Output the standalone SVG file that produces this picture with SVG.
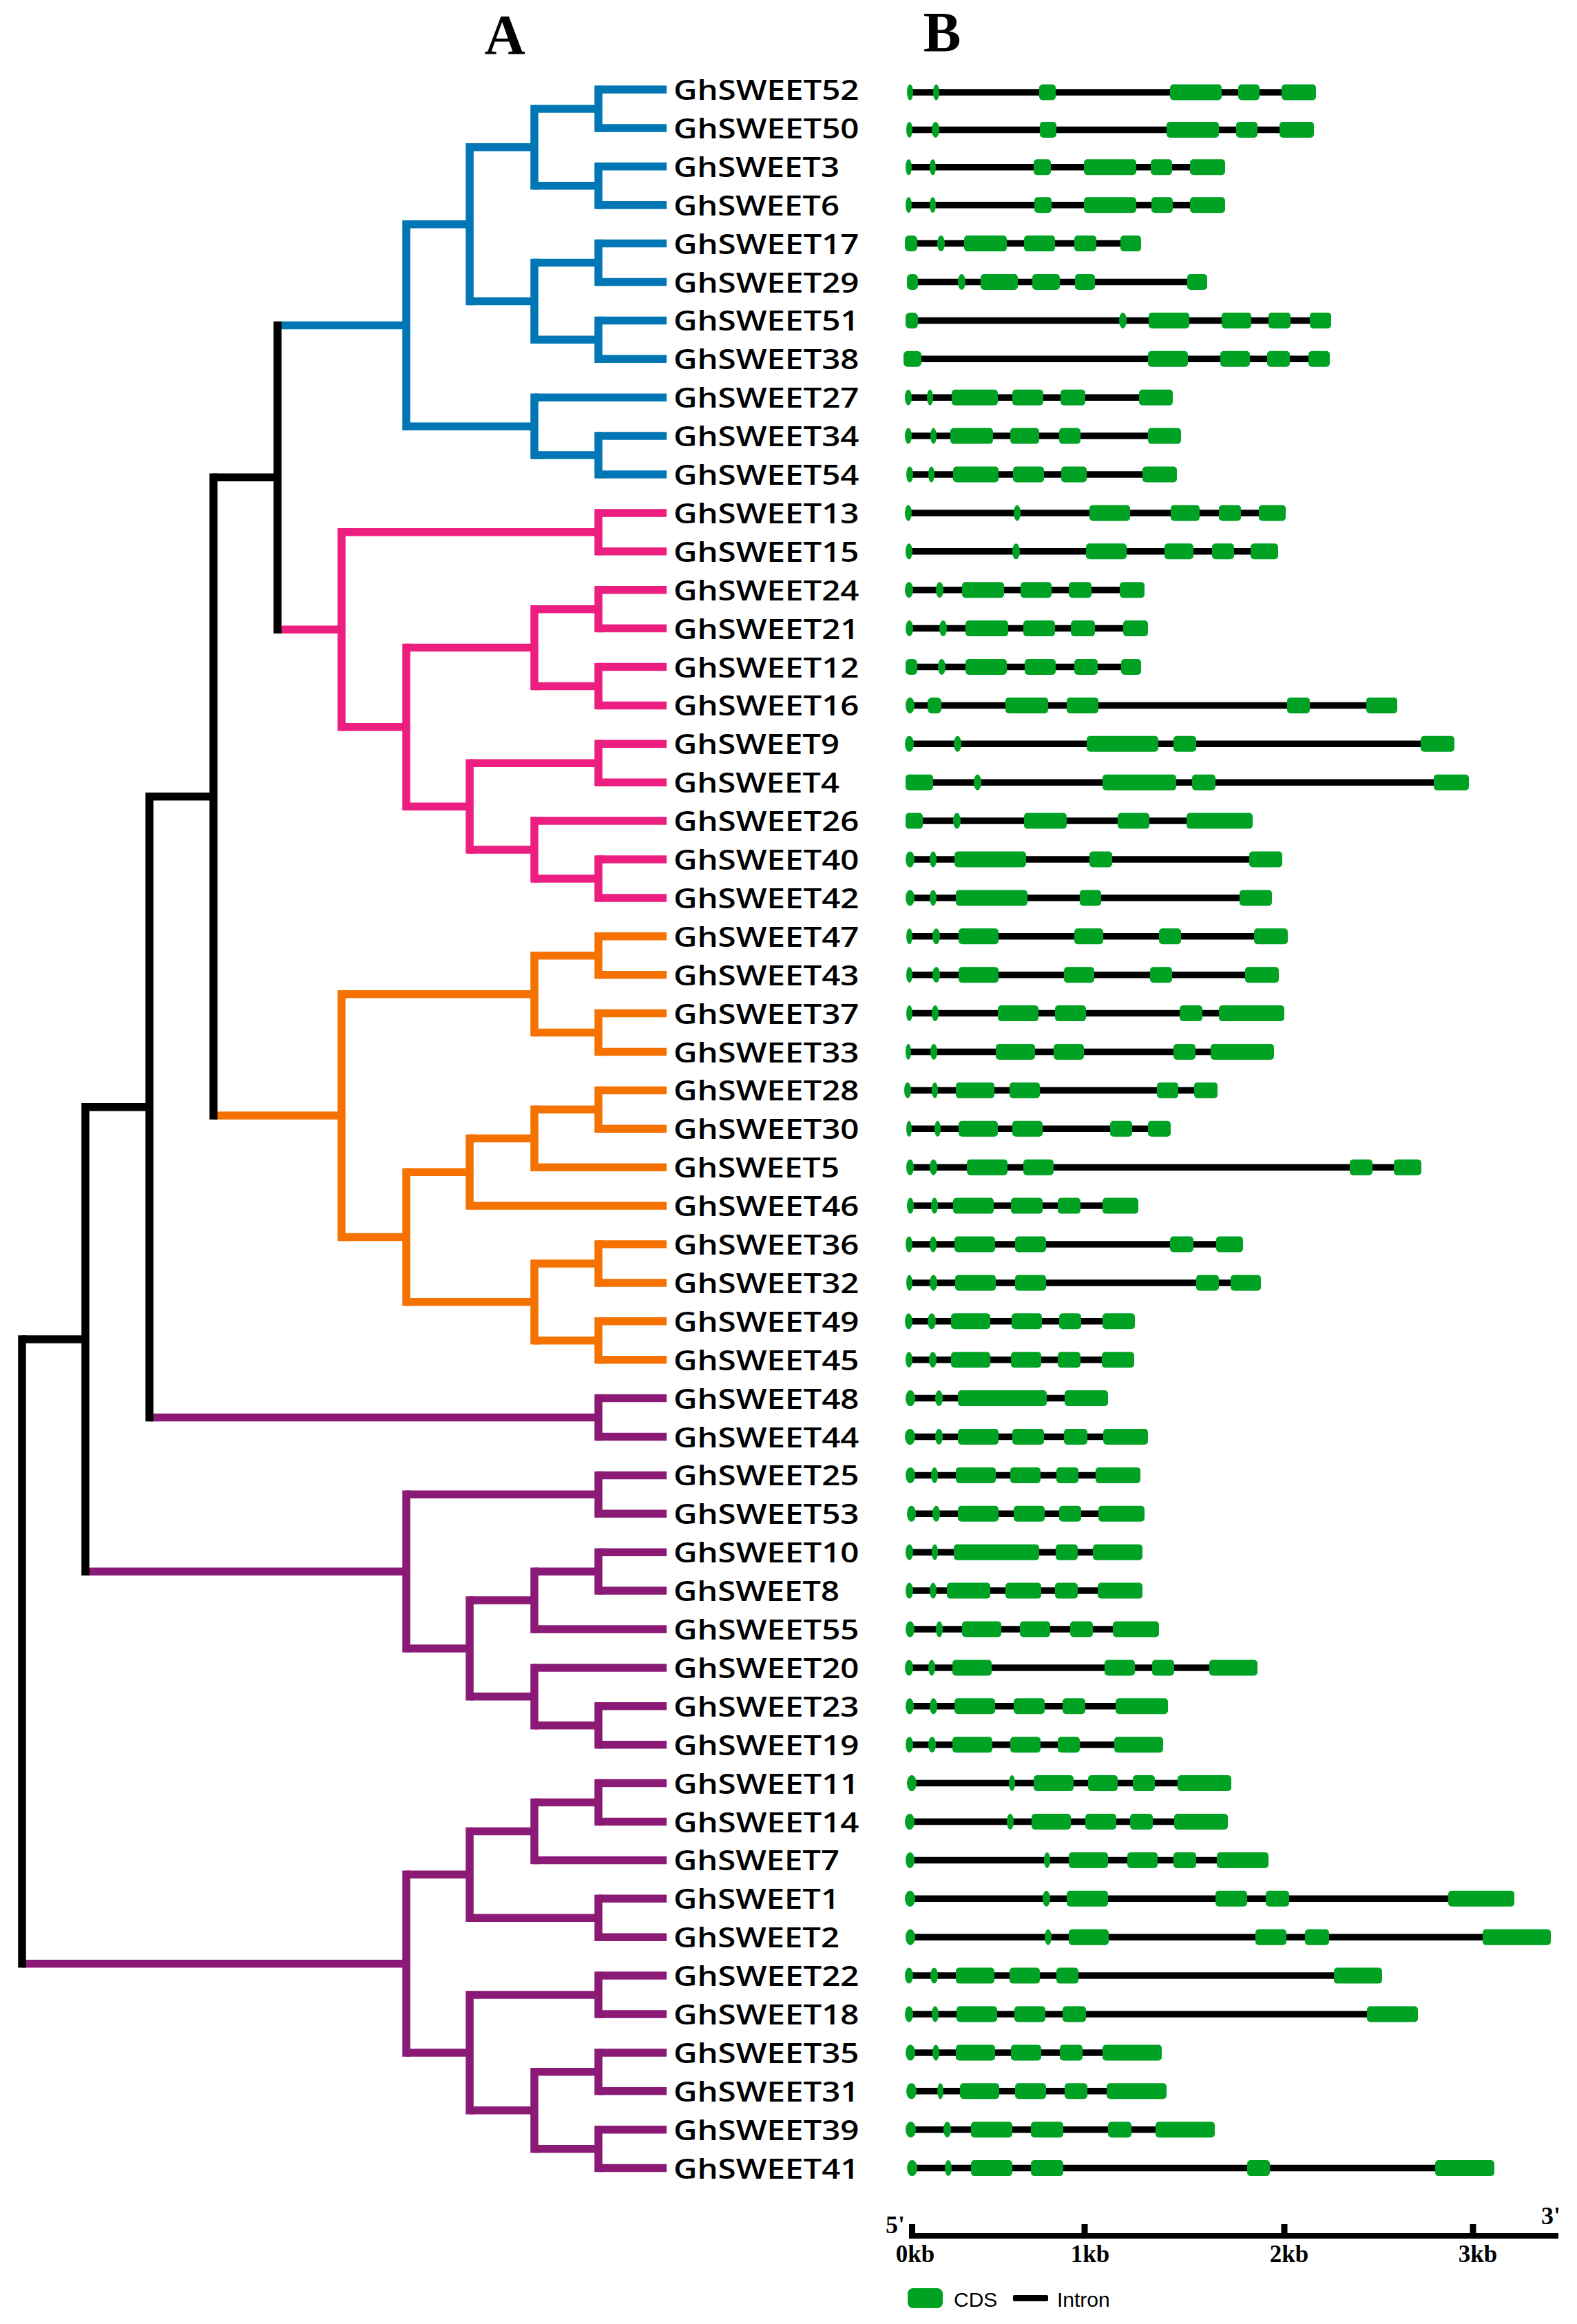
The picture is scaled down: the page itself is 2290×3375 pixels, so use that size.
<svg xmlns="http://www.w3.org/2000/svg" width="2290" height="3375" viewBox="0 0 2290 3375">
<style>
.e{fill:none;stroke-width:11.5;stroke-linecap:butt}
.v{fill:none;stroke-width:11.5;stroke-linecap:square}
.k{stroke:#000}.bl{stroke:#0077b4}.pk{stroke:#ec1e7f}.or{stroke:#f57100}.pu{stroke:#8a1a76}
.lab{font-family:"Open Sans","DejaVu Sans",sans-serif;font-weight:600;font-size:39px;fill:#000}
.gene rect,.gene ellipse{fill:#00a224}
.in{stroke:#000;stroke-width:9.5}
.ttl{font-family:"Liberation Serif","Times New Roman",serif;font-weight:bold;fill:#000}
.leg{font-family:"Liberation Sans",Arial,sans-serif;font-size:30px;fill:#000}
</style>
<rect width="2290" height="3375" fill="#fff"/>
<text class="ttl" x="733" y="78" font-size="82" text-anchor="middle">A</text>
<text class="ttl" x="1368" y="74" font-size="82" text-anchor="middle">B</text>
<g id="connectors">
<path class="e bl" d="M869 130H968M869 185.9H968M869 241.8H968M869 297.7H968M869 353.6H968M869 409.5H968M869 465.4H968M869 521.3H968M776 577.2H968M869 633.1H968M869 689H968M776 157.95H869M776 269.75H869M682 213.85H776M776 381.55H869M776 493.35H869M682 437.45H776M590 325.65H682M776 661.05H869M590 619.13H776M403 472.39H590"/>
<path class="e pk" d="M869 744.9H968M869 800.8H968M869 856.7H968M869 912.6H968M869 968.5H968M869 1024.4H968M869 1080.3H968M869 1136.2H968M776 1192.1H968M869 1248H968M869 1303.9H968M496 772.85H869M776 884.65H869M776 996.45H869M590 940.55H776M682 1108.25H869M776 1275.95H869M682 1234.03H776M590 1171.14H682M496 1055.84H590M403 914.35H496"/>
<path class="e or" d="M869 1359.8H968M869 1415.7H968M869 1471.6H968M869 1527.5H968M869 1583.4H968M869 1639.3H968M776 1695.2H968M682 1751.1H968M869 1807H968M869 1862.9H968M869 1918.8H968M869 1974.7H968M776 1387.75H869M776 1499.55H869M496 1443.65H776M776 1611.35H869M682 1653.28H776M590 1702.19H682M776 1834.95H869M776 1946.75H869M590 1890.85H776M496 1796.52H590M310 1620.08H496"/>
<path class="e pu" d="M869 2030.6H968M869 2086.5H968M869 2142.4H968M869 2198.3H968M869 2254.2H968M869 2310.1H968M776 2366H968M776 2421.9H968M869 2477.8H968M869 2533.7H968M869 2589.6H968M869 2645.5H968M776 2701.4H968M869 2757.3H968M869 2813.2H968M869 2869.1H968M869 2925H968M869 2980.9H968M869 3036.8H968M869 3092.7H968M869 3148.6H968M217 2058.55H869M590 2170.35H869M776 2282.15H869M682 2324.08H776M776 2505.75H869M682 2463.83H776M590 2393.95H682M124 2282.15H590M776 2617.55H869M682 2659.48H776M682 2785.25H869M590 2722.36H682M682 2897.05H869M776 3008.85H869M776 3120.65H869M682 3064.75H776M590 2980.9H682M32 2851.63H590"/>
<path class="e k" d="M310 693.37H403M217 1156.73H310M124 1607.64H217M32 1944.9H124"/>
<path class="v bl" d="M869 130V185.9M869 241.8V297.7M776 157.95V269.75M869 353.6V409.5M869 465.4V521.3M776 381.55V493.35M682 213.85V437.45M869 633.1V689M776 577.2V661.05M590 325.65V619.13"/>
<path class="v pk" d="M869 744.9V800.8M869 856.7V912.6M869 968.5V1024.4M776 884.65V996.45M869 1080.3V1136.2M869 1248V1303.9M776 1192.1V1275.95M682 1108.25V1234.03M590 940.55V1171.14M496 772.85V1055.84"/>
<path class="v or" d="M869 1359.8V1415.7M869 1471.6V1527.5M776 1387.75V1499.55M869 1583.4V1639.3M776 1611.35V1695.2M682 1653.28V1751.1M869 1807V1862.9M869 1918.8V1974.7M776 1834.95V1946.75M590 1702.19V1890.85M496 1443.65V1796.52"/>
<path class="v pu" d="M869 2030.6V2086.5M869 2142.4V2198.3M869 2254.2V2310.1M776 2282.15V2366M869 2477.8V2533.7M776 2421.9V2505.75M682 2324.08V2463.83M590 2170.35V2393.95M869 2589.6V2645.5M776 2617.55V2701.4M869 2757.3V2813.2M682 2659.48V2785.25M869 2869.1V2925M869 2980.9V3036.8M869 3092.7V3148.6M776 3008.85V3120.65M682 2897.05V3064.75M590 2722.36V2980.9"/>
<path class="v k" d="M403 472.39V914.35M310 693.37V1620.08M217 1156.73V2058.55M124 1607.64V2282.15M32 1944.9V2851.63"/>
</g>
<g id="GhSWEET52" class="gene" transform="translate(0,130)"><text class="lab" x="978" y="15" textLength="269.5" lengthAdjust="spacingAndGlyphs">GhSWEET52</text><g transform="translate(0,4)"><line class="in" x1="1321.5" x2="1886"/><ellipse cx="1321.5" rx="4.5" ry="11.5"/><ellipse cx="1359.5" rx="4.5" ry="11.5"/><rect x="1509" y="-11.5" width="24" height="23" rx="5"/><rect x="1699" y="-11.5" width="75" height="23" rx="5"/><rect x="1798" y="-11.5" width="31" height="23" rx="5"/><rect x="1861" y="-11.5" width="50" height="23" rx="5"/></g></g>
<g id="GhSWEET50" class="gene" transform="translate(0,185.9)"><text class="lab" x="978" y="15" textLength="269.5" lengthAdjust="spacingAndGlyphs">GhSWEET50</text><g transform="translate(0,2.5)"><line class="in" x1="1320.5" x2="1883"/><ellipse cx="1320.5" rx="4.5" ry="11.5"/><ellipse cx="1358.5" rx="5.5" ry="11.5"/><rect x="1510" y="-11.5" width="24" height="23" rx="5"/><rect x="1694" y="-11.5" width="76" height="23" rx="5"/><rect x="1795" y="-11.5" width="31" height="23" rx="5"/><rect x="1858" y="-11.5" width="50" height="23" rx="5"/></g></g>
<g id="GhSWEET3" class="gene" transform="translate(0,241.8)"><text class="lab" x="978" y="15" textLength="241" lengthAdjust="spacingAndGlyphs">GhSWEET3</text><g transform="translate(0,1)"><line class="in" x1="1319.5" x2="1753"/><ellipse cx="1319.5" rx="4.5" ry="11.5"/><ellipse cx="1354.5" rx="4.5" ry="11.5"/><rect x="1501" y="-11.5" width="25" height="23" rx="5"/><rect x="1574" y="-11.5" width="76" height="23" rx="5"/><rect x="1671" y="-11.5" width="31" height="23" rx="5"/><rect x="1728" y="-11.5" width="51" height="23" rx="5"/></g></g>
<g id="GhSWEET6" class="gene" transform="translate(0,297.7)"><text class="lab" x="978" y="15" textLength="241" lengthAdjust="spacingAndGlyphs">GhSWEET6</text><line class="in" x1="1319.5" x2="1753"/><ellipse cx="1319.5" rx="4.5" ry="11.5"/><ellipse cx="1354.5" rx="4.5" ry="11.5"/><rect x="1502" y="-11.5" width="25" height="23" rx="5"/><rect x="1574" y="-11.5" width="76" height="23" rx="5"/><rect x="1672" y="-11.5" width="31" height="23" rx="5"/><rect x="1728" y="-11.5" width="51" height="23" rx="5"/></g>
<g id="GhSWEET17" class="gene" transform="translate(0,353.6)"><text class="lab" x="978" y="15" textLength="269.5" lengthAdjust="spacingAndGlyphs">GhSWEET17</text><line class="in" x1="1323" x2="1642"/><rect x="1314" y="-11.5" width="18" height="23" rx="6"/><ellipse cx="1366.5" rx="5.5" ry="11.5"/><rect x="1400" y="-11.5" width="62" height="23" rx="5"/><rect x="1487" y="-11.5" width="45" height="23" rx="5"/><rect x="1560" y="-11.5" width="32" height="23" rx="5"/><rect x="1627" y="-11.5" width="30" height="23" rx="5"/></g>
<g id="GhSWEET29" class="gene" transform="translate(0,409.5)"><text class="lab" x="978" y="15" textLength="269.5" lengthAdjust="spacingAndGlyphs">GhSWEET29</text><line class="in" x1="1325" x2="1738.5"/><rect x="1317" y="-11.5" width="16" height="23" rx="6"/><ellipse cx="1396.5" rx="5.5" ry="11.5"/><rect x="1424" y="-11.5" width="54" height="23" rx="5"/><rect x="1499" y="-11.5" width="40" height="23" rx="5"/><rect x="1561" y="-11.5" width="29" height="23" rx="5"/><rect x="1724" y="-11.5" width="29" height="23" rx="5"/></g>
<g id="GhSWEET51" class="gene" transform="translate(0,465.4)"><text class="lab" x="978" y="15" textLength="269.5" lengthAdjust="spacingAndGlyphs">GhSWEET51</text><line class="in" x1="1324" x2="1917.5"/><rect x="1315" y="-11.5" width="18" height="23" rx="6"/><ellipse cx="1630.5" rx="5.5" ry="11.5"/><rect x="1668" y="-11.5" width="59" height="23" rx="5"/><rect x="1774" y="-11.5" width="43" height="23" rx="5"/><rect x="1842" y="-11.5" width="32" height="23" rx="5"/><rect x="1902" y="-11.5" width="31" height="23" rx="5"/></g>
<g id="GhSWEET38" class="gene" transform="translate(0,521.3)"><text class="lab" x="978" y="15" textLength="269.5" lengthAdjust="spacingAndGlyphs">GhSWEET38</text><line class="in" x1="1325" x2="1915.5"/><rect x="1312" y="-11.5" width="26" height="23" rx="6"/><rect x="1667" y="-11.5" width="58" height="23" rx="5"/><rect x="1772" y="-11.5" width="43" height="23" rx="5"/><rect x="1840" y="-11.5" width="33" height="23" rx="5"/><rect x="1900" y="-11.5" width="31" height="23" rx="5"/></g>
<g id="GhSWEET27" class="gene" transform="translate(0,577.2)"><text class="lab" x="978" y="15" textLength="269.5" lengthAdjust="spacingAndGlyphs">GhSWEET27</text><line class="in" x1="1319" x2="1678.5"/><ellipse cx="1319" rx="5" ry="11.5"/><ellipse cx="1350.5" rx="4.5" ry="11.5"/><rect x="1382" y="-11.5" width="67" height="23" rx="5"/><rect x="1470" y="-11.5" width="45" height="23" rx="5"/><rect x="1540" y="-11.5" width="36" height="23" rx="5"/><rect x="1654" y="-11.5" width="49" height="23" rx="5"/></g>
<g id="GhSWEET34" class="gene" transform="translate(0,633.1)"><text class="lab" x="978" y="15" textLength="269.5" lengthAdjust="spacingAndGlyphs">GhSWEET34</text><line class="in" x1="1319" x2="1691"/><ellipse cx="1319" rx="5" ry="11.5"/><ellipse cx="1355.5" rx="4.5" ry="11.5"/><rect x="1380" y="-11.5" width="62" height="23" rx="5"/><rect x="1467" y="-11.5" width="42" height="23" rx="5"/><rect x="1538" y="-11.5" width="31" height="23" rx="5"/><rect x="1667" y="-11.5" width="48" height="23" rx="5"/></g>
<g id="GhSWEET54" class="gene" transform="translate(0,689)"><text class="lab" x="978" y="15" textLength="269.5" lengthAdjust="spacingAndGlyphs">GhSWEET54</text><line class="in" x1="1321" x2="1684"/><ellipse cx="1321" rx="5" ry="11.5"/><ellipse cx="1352.5" rx="4.5" ry="11.5"/><rect x="1384" y="-11.5" width="66" height="23" rx="5"/><rect x="1471" y="-11.5" width="45" height="23" rx="5"/><rect x="1541" y="-11.5" width="37" height="23" rx="5"/><rect x="1659" y="-11.5" width="50" height="23" rx="5"/></g>
<g id="GhSWEET13" class="gene" transform="translate(0,744.9)"><text class="lab" x="978" y="15" textLength="269.5" lengthAdjust="spacingAndGlyphs">GhSWEET13</text><line class="in" x1="1319" x2="1847.5"/><ellipse cx="1319" rx="5" ry="11.5"/><ellipse cx="1477" rx="5" ry="11.5"/><rect x="1582" y="-11.5" width="59" height="23" rx="5"/><rect x="1700" y="-11.5" width="42" height="23" rx="5"/><rect x="1770" y="-11.5" width="32" height="23" rx="5"/><rect x="1828" y="-11.5" width="39" height="23" rx="5"/></g>
<g id="GhSWEET15" class="gene" transform="translate(0,800.8)"><text class="lab" x="978" y="15" textLength="269.5" lengthAdjust="spacingAndGlyphs">GhSWEET15</text><line class="in" x1="1320" x2="1836"/><ellipse cx="1320" rx="5" ry="11.5"/><ellipse cx="1475.5" rx="5.5" ry="11.5"/><rect x="1577" y="-11.5" width="59" height="23" rx="5"/><rect x="1691" y="-11.5" width="42" height="23" rx="5"/><rect x="1760" y="-11.5" width="32" height="23" rx="5"/><rect x="1816" y="-11.5" width="40" height="23" rx="5"/></g>
<g id="GhSWEET24" class="gene" transform="translate(0,856.7)"><text class="lab" x="978" y="15" textLength="269.5" lengthAdjust="spacingAndGlyphs">GhSWEET24</text><line class="in" x1="1320" x2="1644"/><ellipse cx="1320" rx="6" ry="11.5"/><ellipse cx="1364.5" rx="5.5" ry="11.5"/><rect x="1397" y="-11.5" width="61" height="23" rx="5"/><rect x="1482" y="-11.5" width="45" height="23" rx="5"/><rect x="1552" y="-11.5" width="33" height="23" rx="5"/><rect x="1626" y="-11.5" width="36" height="23" rx="5"/></g>
<g id="GhSWEET21" class="gene" transform="translate(0,912.6)"><text class="lab" x="978" y="15" textLength="269.5" lengthAdjust="spacingAndGlyphs">GhSWEET21</text><line class="in" x1="1320.5" x2="1649"/><ellipse cx="1320.5" rx="5.5" ry="11.5"/><ellipse cx="1369.5" rx="5.5" ry="11.5"/><rect x="1402" y="-11.5" width="62" height="23" rx="5"/><rect x="1486" y="-11.5" width="46" height="23" rx="5"/><rect x="1555" y="-11.5" width="35" height="23" rx="5"/><rect x="1631" y="-11.5" width="36" height="23" rx="5"/></g>
<g id="GhSWEET12" class="gene" transform="translate(0,968.5)"><text class="lab" x="978" y="15" textLength="269.5" lengthAdjust="spacingAndGlyphs">GhSWEET12</text><line class="in" x1="1323.5" x2="1642.5"/><rect x="1315" y="-11.5" width="17" height="23" rx="6"/><ellipse cx="1367.5" rx="5.5" ry="11.5"/><rect x="1402" y="-11.5" width="60" height="23" rx="5"/><rect x="1488" y="-11.5" width="45" height="23" rx="5"/><rect x="1560" y="-11.5" width="34" height="23" rx="5"/><rect x="1628" y="-11.5" width="29" height="23" rx="5"/></g>
<g id="GhSWEET16" class="gene" transform="translate(0,1024.4)"><text class="lab" x="978" y="15" textLength="269.5" lengthAdjust="spacingAndGlyphs">GhSWEET16</text><line class="in" x1="1321.5" x2="2006.5"/><ellipse cx="1321.5" rx="6.5" ry="11.5"/><rect x="1347" y="-11.5" width="20" height="23" rx="6"/><rect x="1460" y="-11.5" width="62" height="23" rx="5"/><rect x="1549" y="-11.5" width="46" height="23" rx="5"/><rect x="1869" y="-11.5" width="33" height="23" rx="5"/><rect x="1984" y="-11.5" width="45" height="23" rx="5"/></g>
<g id="GhSWEET9" class="gene" transform="translate(0,1080.3)"><text class="lab" x="978" y="15" textLength="241" lengthAdjust="spacingAndGlyphs">GhSWEET9</text><line class="in" x1="1320.5" x2="2087.5"/><ellipse cx="1320.5" rx="6.5" ry="11.5"/><ellipse cx="1390.5" rx="5.5" ry="11.5"/><rect x="1578" y="-11.5" width="104" height="23" rx="5"/><rect x="1704" y="-11.5" width="33" height="23" rx="5"/><rect x="2063" y="-11.5" width="49" height="23" rx="5"/></g>
<g id="GhSWEET4" class="gene" transform="translate(0,1136.2)"><text class="lab" x="978" y="15" textLength="241" lengthAdjust="spacingAndGlyphs">GhSWEET4</text><line class="in" x1="1335" x2="2107.5"/><rect x="1315" y="-11.5" width="40" height="23" rx="5"/><ellipse cx="1419.5" rx="5.5" ry="11.5"/><rect x="1601" y="-11.5" width="107" height="23" rx="5"/><rect x="1731" y="-11.5" width="34" height="23" rx="5"/><rect x="2082" y="-11.5" width="51" height="23" rx="5"/></g>
<g id="GhSWEET26" class="gene" transform="translate(0,1192.1)"><text class="lab" x="978" y="15" textLength="269.5" lengthAdjust="spacingAndGlyphs">GhSWEET26</text><line class="in" x1="1327.5" x2="1771"/><rect x="1315" y="-11.5" width="25" height="23" rx="5"/><ellipse cx="1389.5" rx="5.5" ry="11.5"/><rect x="1487" y="-11.5" width="62" height="23" rx="5"/><rect x="1623" y="-11.5" width="46" height="23" rx="5"/><rect x="1723" y="-11.5" width="96" height="23" rx="5"/></g>
<g id="GhSWEET40" class="gene" transform="translate(0,1248)"><text class="lab" x="978" y="15" textLength="269.5" lengthAdjust="spacingAndGlyphs">GhSWEET40</text><line class="in" x1="1321.5" x2="1838"/><ellipse cx="1321.5" rx="6.5" ry="11.5"/><ellipse cx="1355" rx="5" ry="11.5"/><rect x="1386" y="-11.5" width="104" height="23" rx="5"/><rect x="1582" y="-11.5" width="33" height="23" rx="5"/><rect x="1814" y="-11.5" width="48" height="23" rx="5"/></g>
<g id="GhSWEET42" class="gene" transform="translate(0,1303.9)"><text class="lab" x="978" y="15" textLength="269.5" lengthAdjust="spacingAndGlyphs">GhSWEET42</text><line class="in" x1="1321.5" x2="1823.5"/><ellipse cx="1321.5" rx="6.5" ry="11.5"/><ellipse cx="1355" rx="5" ry="11.5"/><rect x="1388" y="-11.5" width="104" height="23" rx="5"/><rect x="1568" y="-11.5" width="31" height="23" rx="5"/><rect x="1800" y="-11.5" width="47" height="23" rx="5"/></g>
<g id="GhSWEET47" class="gene" transform="translate(0,1359.8)"><text class="lab" x="978" y="15" textLength="269.5" lengthAdjust="spacingAndGlyphs">GhSWEET47</text><line class="in" x1="1320.5" x2="1845.5"/><ellipse cx="1320.5" rx="4.5" ry="11.5"/><ellipse cx="1359.5" rx="5.5" ry="11.5"/><rect x="1392" y="-11.5" width="58" height="23" rx="5"/><rect x="1560" y="-11.5" width="42" height="23" rx="5"/><rect x="1683" y="-11.5" width="32" height="23" rx="5"/><rect x="1821" y="-11.5" width="49" height="23" rx="5"/></g>
<g id="GhSWEET43" class="gene" transform="translate(0,1415.7)"><text class="lab" x="978" y="15" textLength="269.5" lengthAdjust="spacingAndGlyphs">GhSWEET43</text><line class="in" x1="1320.5" x2="1832.5"/><ellipse cx="1320.5" rx="4.5" ry="11.5"/><ellipse cx="1359.5" rx="5.5" ry="11.5"/><rect x="1392" y="-11.5" width="58" height="23" rx="5"/><rect x="1545" y="-11.5" width="44" height="23" rx="5"/><rect x="1670" y="-11.5" width="32" height="23" rx="5"/><rect x="1808" y="-11.5" width="49" height="23" rx="5"/></g>
<g id="GhSWEET37" class="gene" transform="translate(0,1471.6)"><text class="lab" x="978" y="15" textLength="269.5" lengthAdjust="spacingAndGlyphs">GhSWEET37</text><line class="in" x1="1320.5" x2="1817.5"/><ellipse cx="1320.5" rx="4.5" ry="11.5"/><ellipse cx="1358" rx="5" ry="11.5"/><rect x="1449" y="-11.5" width="59" height="23" rx="5"/><rect x="1532" y="-11.5" width="45" height="23" rx="5"/><rect x="1713" y="-11.5" width="33" height="23" rx="5"/><rect x="1770" y="-11.5" width="95" height="23" rx="5"/></g>
<g id="GhSWEET33" class="gene" transform="translate(0,1527.5)"><text class="lab" x="978" y="15" textLength="269.5" lengthAdjust="spacingAndGlyphs">GhSWEET33</text><line class="in" x1="1319" x2="1804"/><ellipse cx="1319" rx="4" ry="11.5"/><ellipse cx="1356" rx="5" ry="11.5"/><rect x="1446" y="-11.5" width="57" height="23" rx="5"/><rect x="1530" y="-11.5" width="44" height="23" rx="5"/><rect x="1704" y="-11.5" width="32" height="23" rx="5"/><rect x="1758" y="-11.5" width="92" height="23" rx="5"/></g>
<g id="GhSWEET28" class="gene" transform="translate(0,1583.4)"><text class="lab" x="978" y="15" textLength="269.5" lengthAdjust="spacingAndGlyphs">GhSWEET28</text><line class="in" x1="1318" x2="1751"/><ellipse cx="1318" rx="5" ry="11.5"/><ellipse cx="1357.5" rx="4.5" ry="11.5"/><rect x="1388" y="-11.5" width="56" height="23" rx="5"/><rect x="1466" y="-11.5" width="44" height="23" rx="5"/><rect x="1680" y="-11.5" width="31" height="23" rx="5"/><rect x="1734" y="-11.5" width="34" height="23" rx="5"/></g>
<g id="GhSWEET30" class="gene" transform="translate(0,1639.3)"><text class="lab" x="978" y="15" textLength="269.5" lengthAdjust="spacingAndGlyphs">GhSWEET30</text><line class="in" x1="1320" x2="1683.5"/><ellipse cx="1320" rx="4" ry="11.5"/><ellipse cx="1361.5" rx="4.5" ry="11.5"/><rect x="1392" y="-11.5" width="57" height="23" rx="5"/><rect x="1470" y="-11.5" width="44" height="23" rx="5"/><rect x="1612" y="-11.5" width="32" height="23" rx="5"/><rect x="1667" y="-11.5" width="33" height="23" rx="5"/></g>
<g id="GhSWEET5" class="gene" transform="translate(0,1695.2)"><text class="lab" x="978" y="15" textLength="241" lengthAdjust="spacingAndGlyphs">GhSWEET5</text><line class="in" x1="1321.5" x2="2044"/><ellipse cx="1321.5" rx="5.5" ry="11.5"/><ellipse cx="1355.5" rx="5.5" ry="11.5"/><rect x="1404" y="-11.5" width="59" height="23" rx="5"/><rect x="1486" y="-11.5" width="44" height="23" rx="5"/><rect x="1960" y="-11.5" width="33" height="23" rx="5"/><rect x="2024" y="-11.5" width="40" height="23" rx="5"/></g>
<g id="GhSWEET46" class="gene" transform="translate(0,1751.1)"><text class="lab" x="978" y="15" textLength="269.5" lengthAdjust="spacingAndGlyphs">GhSWEET46</text><line class="in" x1="1322" x2="1627"/><ellipse cx="1322" rx="5" ry="11.5"/><ellipse cx="1357" rx="5" ry="11.5"/><rect x="1384" y="-11.5" width="59" height="23" rx="5"/><rect x="1468" y="-11.5" width="46" height="23" rx="5"/><rect x="1536" y="-11.5" width="33" height="23" rx="5"/><rect x="1601" y="-11.5" width="52" height="23" rx="5"/></g>
<g id="GhSWEET36" class="gene" transform="translate(0,1807)"><text class="lab" x="978" y="15" textLength="269.5" lengthAdjust="spacingAndGlyphs">GhSWEET36</text><line class="in" x1="1320" x2="1785.5"/><ellipse cx="1320" rx="5" ry="11.5"/><ellipse cx="1355" rx="5" ry="11.5"/><rect x="1386" y="-11.5" width="59" height="23" rx="5"/><rect x="1474" y="-11.5" width="45" height="23" rx="5"/><rect x="1699" y="-11.5" width="34" height="23" rx="5"/><rect x="1766" y="-11.5" width="39" height="23" rx="5"/></g>
<g id="GhSWEET32" class="gene" transform="translate(0,1862.9)"><text class="lab" x="978" y="15" textLength="269.5" lengthAdjust="spacingAndGlyphs">GhSWEET32</text><line class="in" x1="1320.5" x2="1809"/><ellipse cx="1320.5" rx="4.5" ry="11.5"/><ellipse cx="1355.5" rx="5.5" ry="11.5"/><rect x="1387" y="-11.5" width="59" height="23" rx="5"/><rect x="1474" y="-11.5" width="45" height="23" rx="5"/><rect x="1737" y="-11.5" width="33" height="23" rx="5"/><rect x="1787" y="-11.5" width="44" height="23" rx="5"/></g>
<g id="GhSWEET49" class="gene" transform="translate(0,1918.8)"><text class="lab" x="978" y="15" textLength="269.5" lengthAdjust="spacingAndGlyphs">GhSWEET49</text><line class="in" x1="1319.5" x2="1624.5"/><ellipse cx="1319.5" rx="5.5" ry="11.5"/><ellipse cx="1353" rx="6" ry="11.5"/><rect x="1381" y="-11.5" width="57" height="23" rx="5"/><rect x="1469" y="-11.5" width="44" height="23" rx="5"/><rect x="1538" y="-11.5" width="32" height="23" rx="5"/><rect x="1601" y="-11.5" width="47" height="23" rx="5"/></g>
<g id="GhSWEET45" class="gene" transform="translate(0,1974.7)"><text class="lab" x="978" y="15" textLength="269.5" lengthAdjust="spacingAndGlyphs">GhSWEET45</text><line class="in" x1="1320" x2="1623.5"/><ellipse cx="1320" rx="5" ry="11.5"/><ellipse cx="1354.5" rx="5.5" ry="11.5"/><rect x="1381" y="-11.5" width="57" height="23" rx="5"/><rect x="1468" y="-11.5" width="44" height="23" rx="5"/><rect x="1536" y="-11.5" width="33" height="23" rx="5"/><rect x="1600" y="-11.5" width="47" height="23" rx="5"/></g>
<g id="GhSWEET48" class="gene" transform="translate(0,2030.6)"><text class="lab" x="978" y="15" textLength="269.5" lengthAdjust="spacingAndGlyphs">GhSWEET48</text><line class="in" x1="1322" x2="1577.5"/><ellipse cx="1322" rx="7" ry="11.5"/><ellipse cx="1363.5" rx="5.5" ry="11.5"/><rect x="1391" y="-11.5" width="129" height="23" rx="5"/><rect x="1546" y="-11.5" width="63" height="23" rx="5"/></g>
<g id="GhSWEET44" class="gene" transform="translate(0,2086.5)"><text class="lab" x="978" y="15" textLength="269.5" lengthAdjust="spacingAndGlyphs">GhSWEET44</text><line class="in" x1="1321.5" x2="1634.5"/><ellipse cx="1321.5" rx="7.5" ry="11.5"/><ellipse cx="1363.5" rx="5.5" ry="11.5"/><rect x="1391" y="-11.5" width="59" height="23" rx="5"/><rect x="1470" y="-11.5" width="46" height="23" rx="5"/><rect x="1545" y="-11.5" width="34" height="23" rx="5"/><rect x="1602" y="-11.5" width="65" height="23" rx="5"/></g>
<g id="GhSWEET25" class="gene" transform="translate(0,2142.4)"><text class="lab" x="978" y="15" textLength="269.5" lengthAdjust="spacingAndGlyphs">GhSWEET25</text><line class="in" x1="1322" x2="1623.5"/><ellipse cx="1322" rx="7" ry="11.5"/><ellipse cx="1357" rx="5" ry="11.5"/><rect x="1388" y="-11.5" width="58" height="23" rx="5"/><rect x="1467" y="-11.5" width="44" height="23" rx="5"/><rect x="1534" y="-11.5" width="32" height="23" rx="5"/><rect x="1591" y="-11.5" width="65" height="23" rx="5"/></g>
<g id="GhSWEET53" class="gene" transform="translate(0,2198.3)"><text class="lab" x="978" y="15" textLength="269.5" lengthAdjust="spacingAndGlyphs">GhSWEET53</text><line class="in" x1="1323.5" x2="1628.5"/><ellipse cx="1323.5" rx="6.5" ry="11.5"/><ellipse cx="1359.5" rx="5.5" ry="11.5"/><rect x="1391" y="-11.5" width="59" height="23" rx="5"/><rect x="1472" y="-11.5" width="45" height="23" rx="5"/><rect x="1538" y="-11.5" width="32" height="23" rx="5"/><rect x="1595" y="-11.5" width="67" height="23" rx="5"/></g>
<g id="GhSWEET10" class="gene" transform="translate(0,2254.2)"><text class="lab" x="978" y="15" textLength="269.5" lengthAdjust="spacingAndGlyphs">GhSWEET10</text><line class="in" x1="1320.5" x2="1623"/><ellipse cx="1320.5" rx="5.5" ry="11.5"/><ellipse cx="1357.5" rx="4.5" ry="11.5"/><rect x="1385" y="-11.5" width="124" height="23" rx="5"/><rect x="1533" y="-11.5" width="32" height="23" rx="5"/><rect x="1587" y="-11.5" width="72" height="23" rx="5"/></g>
<g id="GhSWEET8" class="gene" transform="translate(0,2310.1)"><text class="lab" x="978" y="15" textLength="241" lengthAdjust="spacingAndGlyphs">GhSWEET8</text><line class="in" x1="1320.5" x2="1626.5"/><ellipse cx="1320.5" rx="5.5" ry="11.5"/><ellipse cx="1355" rx="5" ry="11.5"/><rect x="1375" y="-11.5" width="63" height="23" rx="5"/><rect x="1460" y="-11.5" width="52" height="23" rx="5"/><rect x="1532" y="-11.5" width="33" height="23" rx="5"/><rect x="1594" y="-11.5" width="65" height="23" rx="5"/></g>
<g id="GhSWEET55" class="gene" transform="translate(0,2366)"><text class="lab" x="978" y="15" textLength="269.5" lengthAdjust="spacingAndGlyphs">GhSWEET55</text><line class="in" x1="1321.5" x2="1649.5"/><ellipse cx="1321.5" rx="6.5" ry="11.5"/><ellipse cx="1364" rx="5" ry="11.5"/><rect x="1397" y="-11.5" width="57" height="23" rx="5"/><rect x="1481" y="-11.5" width="44" height="23" rx="5"/><rect x="1554" y="-11.5" width="33" height="23" rx="5"/><rect x="1616" y="-11.5" width="67" height="23" rx="5"/></g>
<g id="GhSWEET20" class="gene" transform="translate(0,2421.9)"><text class="lab" x="978" y="15" textLength="269.5" lengthAdjust="spacingAndGlyphs">GhSWEET20</text><line class="in" x1="1320" x2="1791"/><ellipse cx="1320" rx="6" ry="11.5"/><ellipse cx="1353" rx="5" ry="11.5"/><rect x="1383" y="-11.5" width="57" height="23" rx="5"/><rect x="1604" y="-11.5" width="44" height="23" rx="5"/><rect x="1673" y="-11.5" width="32" height="23" rx="5"/><rect x="1756" y="-11.5" width="70" height="23" rx="5"/></g>
<g id="GhSWEET23" class="gene" transform="translate(0,2477.8)"><text class="lab" x="978" y="15" textLength="269.5" lengthAdjust="spacingAndGlyphs">GhSWEET23</text><line class="in" x1="1321" x2="1658"/><ellipse cx="1321" rx="6" ry="11.5"/><ellipse cx="1355.5" rx="5.5" ry="11.5"/><rect x="1386" y="-11.5" width="59" height="23" rx="5"/><rect x="1472" y="-11.5" width="45" height="23" rx="5"/><rect x="1543" y="-11.5" width="33" height="23" rx="5"/><rect x="1620" y="-11.5" width="76" height="23" rx="5"/></g>
<g id="GhSWEET19" class="gene" transform="translate(0,2533.7)"><text class="lab" x="978" y="15" textLength="269.5" lengthAdjust="spacingAndGlyphs">GhSWEET19</text><line class="in" x1="1320.5" x2="1653.5"/><ellipse cx="1320.5" rx="5.5" ry="11.5"/><ellipse cx="1353.5" rx="5.5" ry="11.5"/><rect x="1383" y="-11.5" width="58" height="23" rx="5"/><rect x="1467" y="-11.5" width="44" height="23" rx="5"/><rect x="1536" y="-11.5" width="32" height="23" rx="5"/><rect x="1618" y="-11.5" width="71" height="23" rx="5"/></g>
<g id="GhSWEET11" class="gene" transform="translate(0,2589.6)"><text class="lab" x="978" y="15" textLength="269.5" lengthAdjust="spacingAndGlyphs">GhSWEET11</text><line class="in" x1="1324" x2="1749"/><ellipse cx="1324" rx="7" ry="11.5"/><ellipse cx="1469.5" rx="4.5" ry="11.5"/><rect x="1501" y="-11.5" width="58" height="23" rx="5"/><rect x="1580" y="-11.5" width="43" height="23" rx="5"/><rect x="1645" y="-11.5" width="32" height="23" rx="5"/><rect x="1710" y="-11.5" width="78" height="23" rx="5"/></g>
<g id="GhSWEET14" class="gene" transform="translate(0,2645.5)"><text class="lab" x="978" y="15" textLength="269.5" lengthAdjust="spacingAndGlyphs">GhSWEET14</text><line class="in" x1="1321" x2="1744"/><ellipse cx="1321" rx="7" ry="11.5"/><ellipse cx="1467" rx="5" ry="11.5"/><rect x="1498" y="-11.5" width="57" height="23" rx="5"/><rect x="1576" y="-11.5" width="45" height="23" rx="5"/><rect x="1641" y="-11.5" width="33" height="23" rx="5"/><rect x="1705" y="-11.5" width="78" height="23" rx="5"/></g>
<g id="GhSWEET7" class="gene" transform="translate(0,2701.4)"><text class="lab" x="978" y="15" textLength="241" lengthAdjust="spacingAndGlyphs">GhSWEET7</text><line class="in" x1="1321.5" x2="1804.5"/><ellipse cx="1321.5" rx="6.5" ry="11.5"/><ellipse cx="1520.5" rx="4.5" ry="11.5"/><rect x="1552" y="-11.5" width="57" height="23" rx="5"/><rect x="1637" y="-11.5" width="44" height="23" rx="5"/><rect x="1704" y="-11.5" width="33" height="23" rx="5"/><rect x="1767" y="-11.5" width="75" height="23" rx="5"/></g>
<g id="GhSWEET1" class="gene" transform="translate(0,2757.3)"><text class="lab" x="978" y="15" textLength="241" lengthAdjust="spacingAndGlyphs">GhSWEET1</text><line class="in" x1="1321.5" x2="2151"/><ellipse cx="1321.5" rx="7.5" ry="11.5"/><ellipse cx="1519.5" rx="5.5" ry="11.5"/><rect x="1549" y="-11.5" width="60" height="23" rx="5"/><rect x="1765" y="-11.5" width="46" height="23" rx="5"/><rect x="1838" y="-11.5" width="34" height="23" rx="5"/><rect x="2103" y="-11.5" width="96" height="23" rx="5"/></g>
<g id="GhSWEET2" class="gene" transform="translate(0,2813.2)"><text class="lab" x="978" y="15" textLength="241" lengthAdjust="spacingAndGlyphs">GhSWEET2</text><line class="in" x1="1322" x2="2202.5"/><ellipse cx="1322" rx="7" ry="11.5"/><ellipse cx="1522" rx="5" ry="11.5"/><rect x="1552" y="-11.5" width="58" height="23" rx="5"/><rect x="1823" y="-11.5" width="45" height="23" rx="5"/><rect x="1895" y="-11.5" width="35" height="23" rx="5"/><rect x="2153" y="-11.5" width="99" height="23" rx="5"/></g>
<g id="GhSWEET22" class="gene" transform="translate(0,2869.1)"><text class="lab" x="978" y="15" textLength="269.5" lengthAdjust="spacingAndGlyphs">GhSWEET22</text><line class="in" x1="1320" x2="1972"/><ellipse cx="1320" rx="6" ry="11.5"/><ellipse cx="1356.5" rx="5.5" ry="11.5"/><rect x="1388" y="-11.5" width="56" height="23" rx="5"/><rect x="1466" y="-11.5" width="44" height="23" rx="5"/><rect x="1534" y="-11.5" width="32" height="23" rx="5"/><rect x="1937" y="-11.5" width="70" height="23" rx="5"/></g>
<g id="GhSWEET18" class="gene" transform="translate(0,2925)"><text class="lab" x="978" y="15" textLength="269.5" lengthAdjust="spacingAndGlyphs">GhSWEET18</text><line class="in" x1="1320" x2="2022"/><ellipse cx="1320" rx="6" ry="11.5"/><ellipse cx="1358" rx="5" ry="11.5"/><rect x="1389" y="-11.5" width="59" height="23" rx="5"/><rect x="1473" y="-11.5" width="45" height="23" rx="5"/><rect x="1543" y="-11.5" width="34" height="23" rx="5"/><rect x="1985" y="-11.5" width="74" height="23" rx="5"/></g>
<g id="GhSWEET35" class="gene" transform="translate(0,2980.9)"><text class="lab" x="978" y="15" textLength="269.5" lengthAdjust="spacingAndGlyphs">GhSWEET35</text><line class="in" x1="1322" x2="1644"/><ellipse cx="1322" rx="7" ry="11.5"/><ellipse cx="1359" rx="5" ry="11.5"/><rect x="1388" y="-11.5" width="57" height="23" rx="5"/><rect x="1468" y="-11.5" width="44" height="23" rx="5"/><rect x="1539" y="-11.5" width="33" height="23" rx="5"/><rect x="1601" y="-11.5" width="86" height="23" rx="5"/></g>
<g id="GhSWEET31" class="gene" transform="translate(0,3036.8)"><text class="lab" x="978" y="15" textLength="269.5" lengthAdjust="spacingAndGlyphs">GhSWEET31</text><line class="in" x1="1323.5" x2="1650.5"/><ellipse cx="1323.5" rx="7.5" ry="11.5"/><ellipse cx="1365.5" rx="4.5" ry="11.5"/><rect x="1394" y="-11.5" width="57" height="23" rx="5"/><rect x="1474" y="-11.5" width="45" height="23" rx="5"/><rect x="1546" y="-11.5" width="33" height="23" rx="5"/><rect x="1607" y="-11.5" width="87" height="23" rx="5"/></g>
<g id="GhSWEET39" class="gene" transform="translate(0,3092.7)"><text class="lab" x="978" y="15" textLength="269.5" lengthAdjust="spacingAndGlyphs">GhSWEET39</text><line class="in" x1="1322.5" x2="1721"/><ellipse cx="1322.5" rx="7.5" ry="11.5"/><ellipse cx="1375.5" rx="5.5" ry="11.5"/><rect x="1410" y="-11.5" width="60" height="23" rx="5"/><rect x="1497" y="-11.5" width="47" height="23" rx="5"/><rect x="1609" y="-11.5" width="34" height="23" rx="5"/><rect x="1678" y="-11.5" width="86" height="23" rx="5"/></g>
<g id="GhSWEET41" class="gene" transform="translate(0,3148.6)"><text class="lab" x="978" y="15" textLength="269.5" lengthAdjust="spacingAndGlyphs">GhSWEET41</text><line class="in" x1="1324.5" x2="2127"/><ellipse cx="1324.5" rx="7.5" ry="11.5"/><ellipse cx="1377" rx="5" ry="11.5"/><rect x="1410" y="-11.5" width="60" height="23" rx="5"/><rect x="1497" y="-11.5" width="47" height="23" rx="5"/><rect x="1811" y="-11.5" width="33" height="23" rx="5"/><rect x="2084" y="-11.5" width="86" height="23" rx="5"/></g>
<g id="scale">
<line x1="1320" y1="3247" x2="2263" y2="3247" stroke="#000" stroke-width="8"/>
<path d="M1324.5 3230V3247M1575 3230V3247M1865 3230V3247M2139 3230V3247" stroke="#000" stroke-width="9" fill="none"/>
<text class="ttl" x="1286" y="3243" font-size="36">5'</text>
<text class="ttl" x="2238" y="3230" font-size="36">3'</text>
<text class="ttl" x="1329" y="3285" font-size="35" text-anchor="middle">0kb</text>
<text class="ttl" x="1583" y="3285" font-size="35" text-anchor="middle">1kb</text>
<text class="ttl" x="1872" y="3285" font-size="35" text-anchor="middle">2kb</text>
<text class="ttl" x="2146" y="3285" font-size="35" text-anchor="middle">3kb</text>
</g>
<g id="legend">
<rect x="1318" y="3323" width="51" height="29" rx="8" fill="#00a224"/>
<text class="leg" x="1385" y="3350">CDS</text>
<rect x="1471" y="3333" width="51" height="9" rx="2" fill="#000"/>
<text class="leg" x="1535" y="3350">Intron</text>
</g>
</svg>
